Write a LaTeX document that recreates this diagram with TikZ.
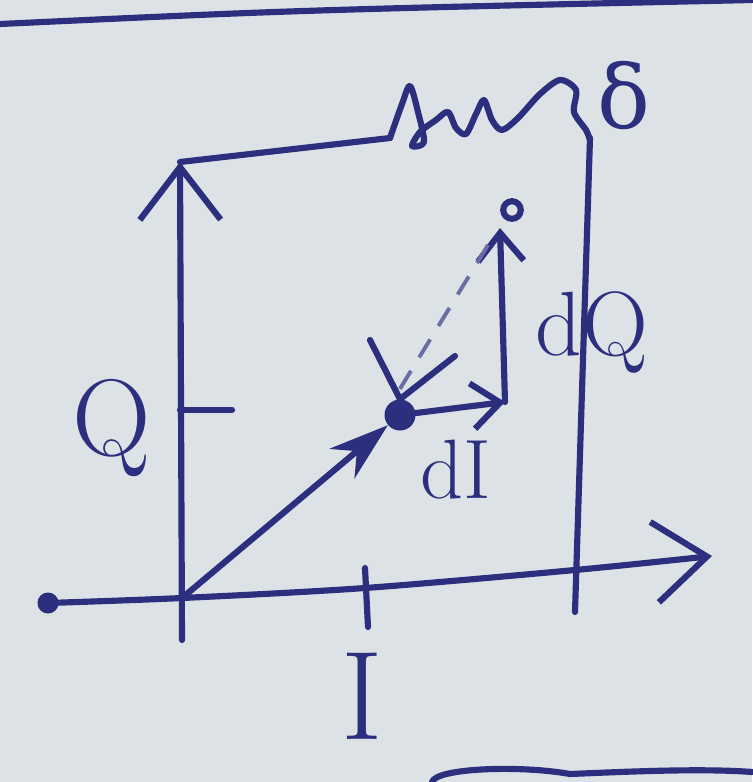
\documentclass[tikz,border=0pt]{standalone}
\usepackage{fontspec}
\newfontfamily\grk{DejaVu Serif}
\usetikzlibrary{arrows.meta}
\definecolor{ink}{HTML}{2B2F7E}
\definecolor{paper}{HTML}{DCE2E5}
\begin{document}
\begin{tikzpicture}[x=0.02cm,y=-0.02cm,
  inkline/.style={draw=ink,line width=3.5pt,line cap=round,line join=round},
  bigbarb/.style={-{Straight Barb[length=30pt,width=46pt,line width=3.5pt]}},
  smallbarb/.style={-{Straight Barb[length=16pt,width=26pt,line width=3.5pt]}},
  lbl/.style={text=ink,inner sep=0pt}]
\fill[paper] (0,0) rectangle (752,782);
\useasboundingbox (0,0) rectangle (752,782);

% page rulings
\coordinate (r1) at (0,24);
\coordinate (r2) at (752,0);
\draw[inkline] (r1) .. controls (300,10) .. (r2);
\coordinate (b1) at (432,782);
\coordinate (b2) at (752,772);
\draw[inkline] (b1) .. controls (436,768) and (520,765) .. (570,774) .. controls (620,772) and (700,768) .. (b2);

% axes
\coordinate (O) at (182,598);
\node[circle,fill=ink,inner sep=0pt,minimum size=12pt] (start) at (48,603) {};
\coordinate (Itip) at (712,556);
\draw[inkline,bigbarb] plot[smooth] coordinates {(48,603) (182,598) (365,588) (575,570) (712,556)};
\coordinate (Qbot) at (182,640);
\coordinate (Qtip) at (180,162);
\draw[inkline,bigbarb] (Qbot) -- (Qtip);

% box with squiggle
\coordinate (tl) at (180,162);
\coordinate (sq) at (390,138);
\coordinate (tr) at (590,138);
\coordinate (br) at (575,612);
\draw[inkline] (tl) -- (sq);
\draw[inkline] plot[smooth] coordinates {(390,138) (402,104) (410,86) (418,112) (424,142) (412,146) (420,132) (436,120) (448,112) (456,128) (466,134) (476,114) (484,100) (492,120) (502,130) (518,118) (540,94) (560,80) (576,90) (574,112) (586,130) (590,140)};
\draw[inkline] (tr) -- (br);
\node[lbl,font=\grk\fontsize{50}{50}\selectfont] (delta) at (624,96) {δ};

% ticks and labels
\coordinate (qt1) at (180,410);
\coordinate (qt2) at (232,410);
\draw[inkline] (qt1) -- (qt2);
\node[lbl,font=\fontsize{62}{62}\selectfont] (Qlbl) at (112,428) {Q};
\coordinate (it1) at (365,568);
\coordinate (it2) at (368,627);
\draw[inkline] (it1) -- (it2);
\node[lbl,font=\fontsize{72}{72}\selectfont] (Ilbl) at (362,696) {I};

% point and vectors
\node[circle,fill=ink,inner sep=0pt,minimum size=0.62cm] (P) at (400,415) {};
\draw[inkline,-{Stealth[length=34pt,width=22pt]}] (O) -- (P);
\coordinate (dIend) at (505,402);
\draw[inkline,smallbarb] (P) -- (dIend);
\node[lbl,font=\fontsize{48}{48}\selectfont] (dIlbl) at (456,470) {dI};
\coordinate (dQend) at (500,228);
\draw[inkline,smallbarb] (dIend) -- (dQend);
\node[lbl,font=\fontsize{52}{52}\selectfont] (dQlbl) at (592,332) {dQ};
\node[circle,draw=ink,line width=3.5pt,inner sep=0pt,minimum size=10pt] (tipc) at (512,210) {};

% dashed arrow back to the point
\coordinate (dstart) at (488,245);
\coordinate (dend) at (398,392);
\draw[draw=ink!70,line width=2.2pt,dash pattern=on 12pt off 9pt] (dstart) -- (dend);
\coordinate (v1) at (370,340);
\coordinate (v2) at (455,356);
\draw[inkline] (v1) -- (P.north) -- (v2);
\end{tikzpicture}
\end{document}
